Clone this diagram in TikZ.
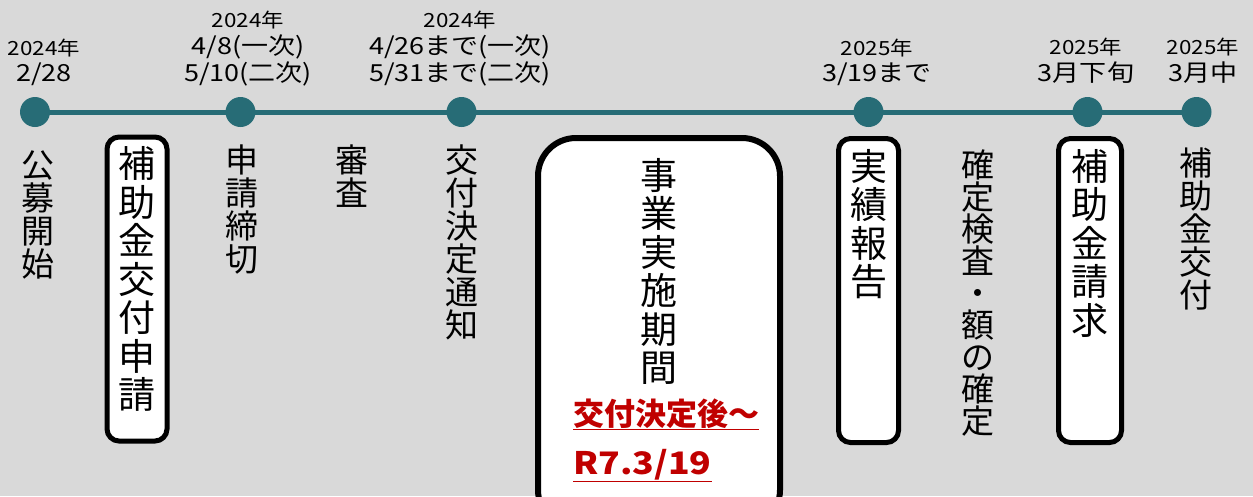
\documentclass[tikz,border=0pt]{standalone}
\usepackage{fontspec}
\setmainfont{Noto Sans CJK JP}
\newfontfamily\widefont[FakeStretch=1.15]{Noto Sans CJK JP}
\usetikzlibrary{positioning}
\definecolor{bggray}{HTML}{D9D9D9}
\definecolor{timeline}{HTML}{276C76}
\definecolor{deadred}{HTML}{C00000}

\begin{document}
\begin{tikzpicture}[x=1pt,y=-1pt,
    dot/.style={circle,fill=timeline,minimum size=30pt,inner sep=0pt},
    year/.style={inner sep=0pt,text depth=0pt,font=\widefont\fontsize{19.5}{20}\selectfont},
    date/.style={inner sep=0pt,text depth=0pt,align=center,anchor=south,font=\widefont\fontsize{23.5}{27}\selectfont},
    vlabel/.style={inner sep=0pt,align=center,anchor=north,font=\fontsize{33}{33}\selectfont},
    vboxlabel/.style={vlabel,font=\fontsize{37}{38.5}\selectfont},
    stagebox/.style={draw=black,line width=5pt,fill=white,rounded corners=12pt,minimum width=60pt,minimum height=304pt},
    redtxt/.style={inner sep=0pt,anchor=base west,text=deadred,font=\fontsize{31}{32}\selectfont\bfseries}]
    \clip (0,0) rectangle (1253,496);
    \fill[bggray] (0,0) rectangle (1253,496);

    \coordinate (p1) at (35,112);
    \coordinate (p2) at (240.5,112);
    \coordinate (p3) at (461.5,112);
    \coordinate (p4) at (868.5,112);
    \coordinate (p5) at (1087.5,112);
    \coordinate (p6) at (1196.5,112);
    \draw[timeline,line width=5pt] (p1) -- (p6);
    \foreach \i in {1,...,6}
      \node[dot] (d\i) at (p\i) {};

    % dates
    \node[date] (t1) at (44,82) {2/28};
    \node[date] (t2) at (248,82) {4/8(一次)\\5/10(二次)};
    \node[date] (t3) at (460,82) {4/26まで(一次)\\5/31まで(二次)};
    \node[date] (t4) at (877,82) {3/19まで};
    \node[date] (t5) at (1086,82) {3月下旬};
    \node[date] (t6) at (1203,82) {3月中};
    \node[year,above=7pt of t1] {2024年};
    \node[year,above=7pt of t2] {2024年};
    \node[year,above=7pt of t3] {2024年};
    \node[year,above=7pt of t4] {2025年};
    \node[year,above=7pt of t5] {2025年};
    \node[year,above=7pt of t6] {2025年};

    % boxes
    \node[stagebox] (b1) at (137,289) {};
    \node[stagebox] (b2) at (868.5,290.5) {};
    \node[stagebox,minimum width=63pt] (b3) at (1090,290.5) {};
    \node[stagebox,line width=6pt,rounded corners=38pt,minimum width=242pt,minimum height=390pt] (b4) at (659,333) {};

    % steps
    \node[vlabel] (s1) at (38,151) {公\\募\\開\\始};
    \node[vboxlabel,below=12pt of b1.north] (s2) {補\\助\\金\\交\\付\\申\\請};
    \node[vlabel] (s3) at (242,145) {申\\請\\締\\切};
    \node[vlabel] (s4) at (352,145) {審\\査};
    \node[vlabel] (s5) at (462,145) {交\\付\\決\\定\\通\\知};
    \node[vboxlabel,below=23pt of b4.north] (s6) {事\\業\\実\\施\\期\\間};
    \node[vboxlabel,below=13pt of b2.north] (s7) {実\\績\\報\\告};
    \node[vlabel,font=\fontsize{33}{32}\selectfont] (s8) at (978,150) {確\\定\\検\\査\\・\\額\\の\\確\\定};
    \node[vboxlabel,below=13pt of b3.north] (s9) {補\\助\\金\\請\\求};
    \node[vlabel] (s10) at (1196,148) {補\\助\\金\\交\\付};

    \node[redtxt] (r1) at (573,425) {\underline{交付決定後～}};
    \node[redtxt,font=\widefont\fontsize{31}{32}\selectfont\bfseries] (r2) at (573,474) {\underline{R7.3/19}};
\end{tikzpicture}
\end{document}
